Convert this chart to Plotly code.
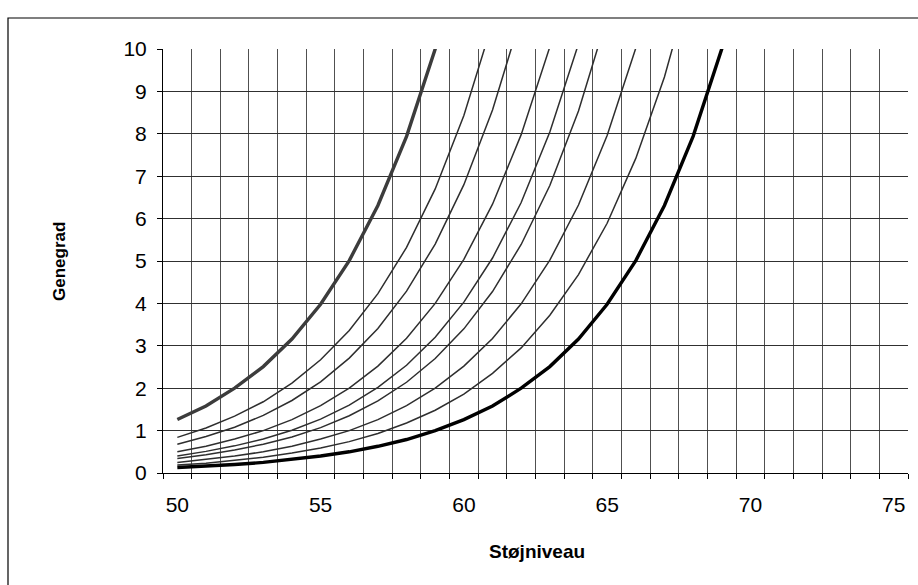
import plotly.graph_objects as go

# Støjniveau (dB) categories
stoejniveau = list(range(50, 76))

# Genegrad curves (values beyond 10 are clipped by the axis)
gray_thick = [1.26, 1.58, 2.00, 2.51, 3.16, 3.98, 5.01, 6.31, 7.94, 10.00, 12.59]
thin_1 = [0.84, 1.06, 1.34, 1.68, 2.12, 2.67, 3.36, 4.23, 5.32, 6.70, 8.43, 10.62]
thin_2 = [0.68, 0.86, 1.08, 1.36, 1.71, 2.15, 2.71, 3.41, 4.29, 5.40, 6.80, 8.56, 10.77]
thin_3 = [0.50, 0.63, 0.80, 1.00, 1.26, 1.59, 2.00, 2.52, 3.18, 4.00, 5.04, 6.34, 7.98, 10.05]
thin_4 = [0.40, 0.51, 0.64, 0.80, 1.01, 1.27, 1.60, 2.02, 2.54, 3.20, 4.03, 5.07, 6.38, 8.04, 10.12]
thin_5 = [0.34, 0.43, 0.54, 0.68, 0.85, 1.07, 1.35, 1.70, 2.14, 2.70, 3.40, 4.28, 5.39, 6.78, 8.54, 10.75]
thin_6 = [0.25, 0.32, 0.40, 0.50, 0.63, 0.80, 1.00, 1.26, 1.59, 2.00, 2.52, 3.17, 3.99, 5.02, 6.32, 7.96, 10.02]
thin_7 = [0.19, 0.23, 0.30, 0.37, 0.47, 0.59, 0.74, 0.93, 1.18, 1.48, 1.86, 2.35, 2.95, 3.72, 4.68, 5.89, 7.42, 9.34, 11.76]
black_thick = [0.13, 0.16, 0.20, 0.25, 0.32, 0.40, 0.50, 0.63, 0.79, 1.00, 1.26, 1.58, 2.00, 2.51, 3.16, 3.98, 5.01, 6.31, 7.94, 10.00, 12.59]

x_tick_labels = [50, 55, 60, 65, 70, 75]
y_ticks = list(range(0, 11))

FONT = "Liberation Sans, Arial, sans-serif"

fig = go.Figure()

thin_series = [thin_1, thin_2, thin_3, thin_4, thin_5, thin_6, thin_7]
for s in thin_series:
    fig.add_trace(go.Scatter(x=stoejniveau[:len(s)], y=s, mode="lines",
                             line=dict(color="#2e2e2e", width=1.5),
                             showlegend=False, hoverinfo="skip"))

fig.add_trace(go.Scatter(x=stoejniveau[:len(gray_thick)], y=gray_thick, mode="lines",
                         line=dict(color="#3c3c3c", width=3.4),
                         showlegend=False, hoverinfo="skip"))
fig.add_trace(go.Scatter(x=stoejniveau[:len(black_thick)], y=black_thick, mode="lines",
                         line=dict(color="#000000", width=3.4),
                         showlegend=False, hoverinfo="skip"))

fig.update_layout(
    width=918, height=585,
    margin=dict(l=163, r=10, t=49, b=112),
    paper_bgcolor="white", plot_bgcolor="white",
    font=dict(family=FONT, size=21, color="black"),
    xaxis=dict(
        range=[49.5, 75.5], tickmode="array", tickvals=x_tick_labels,
        ticktext=[str(v) for v in x_tick_labels],
        showgrid=False, zeroline=False, ticks="",
        showline=True, linecolor="black", linewidth=1,
        ticklabelstandoff=13,
        tickfont=dict(family=FONT, size=21),
        minor=dict(tick0=49.5, dtick=1, showgrid=True, gridcolor="#505050",
                   gridwidth=1, ticks="outside", ticklen=5, tickcolor="black"),
    ),
    yaxis=dict(
        range=[0, 10], tickmode="array", tickvals=y_ticks,
        showgrid=True, gridcolor="#303030", gridwidth=1, zeroline=False,
        ticks="outside", ticklen=5, tickcolor="black",
        showline=True, linecolor="black", linewidth=1,
        ticklabelstandoff=6,
        tickfont=dict(family=FONT, size=21),
    ),
    annotations=[
        dict(text="<b>Genegrad</b>", x=59, y=262, xref="paper", yref="paper",
             xanchor="center", yanchor="middle",
             showarrow=False, textangle=-90, font=dict(family=FONT, size=17)),
        dict(text="<b>Støjniveau</b>", x=537, y=551, xref="paper", yref="paper",
             xanchor="center", yanchor="middle",
             showarrow=False, font=dict(family=FONT, size=19)),
    ],
)

# convert pixel positions of annotations to paper coords
L, R, T, B = 163, 908, 49, 473
for a in fig.layout.annotations:
    a.x = (a.x - L) / (R - L)
    a.y = (B - a.y) / (B - T)

fig.add_shape(type="rect", xref="paper", yref="paper",
              x0=(8 - L) / (R - L), x1=(930 - L) / (R - L),
              y0=(B - 600) / (B - T), y1=(B - 18) / (B - T),
              line=dict(color="black", width=1.2), fillcolor="rgba(0,0,0,0)", layer="below")

fig.write_html("out.html")
